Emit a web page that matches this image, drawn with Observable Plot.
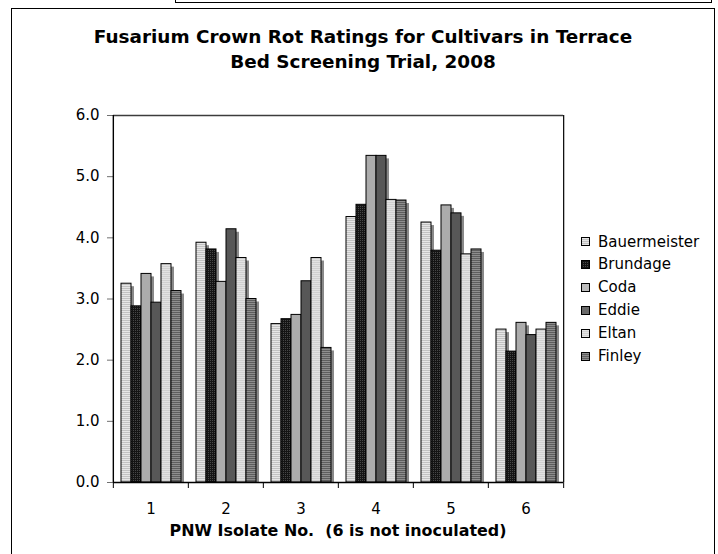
<!DOCTYPE html>
<html>
<head>
<meta charset="utf-8">
<script src="https://cdn.jsdelivr.net/npm/d3@7"></script>
<script src="https://cdn.jsdelivr.net/npm/@observablehq/plot@0.6"></script>
<style>
  html, body { margin: 0; padding: 0; background: #fff; }
  #wrap { position: relative; width: 718px; height: 554px; overflow: hidden; font-family: "DejaVu Sans", Verdana, sans-serif; color: #000; }
  #topbox { position: absolute; left: 175px; top: -20px; width: 535px; height: 21px; border: 1.3px solid #000; }
  #border { position: absolute; left: 11px; top: 8px; width: 702px; height: 600px; border: 1.3px solid #000; }
  #title { position: absolute; left: 11px; width: 704px; top: 24px; text-align: center; font-weight: bold; font-size: 18.4px; line-height: 25px; }
  #chart { position: absolute; left: 0; top: 0; }
  #xlabel { position: absolute; left: 112px; width: 452px; top: 521px; text-align: center; font-weight: bold; font-size: 15.9px; line-height: 20px; white-space: pre; }
  #legend { position: absolute; left: 581px; top: 230.5px; font-size: 15px; }
  .li { height: 22.9px; line-height: 22.9px; display: flex; align-items: center; white-space: nowrap; }
  .li svg { margin-right: 8px; flex: none; }
</style>
</head>
<body>
<svg width="0" height="0" style="position:absolute">
  <defs>
    <pattern id="pBau" width="4" height="2" patternUnits="userSpaceOnUse">
      <rect width="4" height="2" fill="#e6e6e6"/><rect width="4" height="1" fill="#c2c2c2"/>
    </pattern>
    <pattern id="pBru" width="2" height="2" patternUnits="userSpaceOnUse">
      <rect width="2" height="2" fill="#141414"/><rect width="1" height="1" fill="#474747"/>
    </pattern>
    <pattern id="pElt" width="4" height="2" patternUnits="userSpaceOnUse">
      <rect width="4" height="2" fill="#e2e2e2"/><rect width="4" height="1" fill="#d0d0d0"/>
    </pattern>
    <pattern id="pFin" width="4" height="2" patternUnits="userSpaceOnUse">
      <rect width="4" height="2" fill="#8e8e8e"/><rect width="4" height="1" fill="#5e5e5e"/>
    </pattern>
  </defs>
</svg>
<div id="wrap">
  <div id="topbox"></div>
  <div id="border"></div>
  <div id="title">Fusarium Crown Rot Ratings for Cultivars in Terrace<br>Bed Screening Trial, 2008</div>
  <div id="chart"></div>
  <div id="legend"></div>
  <div id="xlabel">PNW Isolate No.  (6 is not inoculated)</div>
</div>
<script>
// ---- data ----
const isolates = ["1", "2", "3", "4", "5", "6"];
const cultivars = ["Bauermeister", "Brundage", "Coda", "Eddie", "Eltan", "Finley"];
const bauermeister = [3.25, 3.92, 2.59, 4.34, 4.25, 2.50];
const brundage     = [2.88, 3.81, 2.67, 4.54, 3.79, 2.14];
const coda         = [3.41, 3.28, 2.74, 5.34, 4.53, 2.61];
const eddie        = [2.94, 4.14, 3.29, 5.34, 4.40, 2.41];
const eltan        = [3.57, 3.67, 3.67, 4.62, 3.73, 2.50];
const finley       = [3.13, 3.00, 2.20, 4.61, 3.81, 2.61];
const yTicks = [0, 1, 2, 3, 4, 5, 6];

// ---- styles ----
const fills = ["url(#pBau)", "url(#pBru)", "#acacac", "#575757", "url(#pElt)", "url(#pFin)"];
const legendFills = ["url(#pBau)", "url(#pBru)", "#bcbcbc", "#6a6a6a", "url(#pElt)", "url(#pFin)"];

const series = [bauermeister, brundage, coda, eddie, eltan, finley];
const rows = [];
isolates.forEach((iso, i) => {
  cultivars.forEach((c, j) => rows.push({isolate: iso, cultivar: c, value: series[j][i]}));
});

const W = 718, H = 554, ML = 112, MR = 154, MT = 115, MB = 72;
const step = (W - ML - MR) / isolates.length;
const innerH = H - MT - MB;

const chart = Plot.plot({
  width: W, height: H,
  marginLeft: ML, marginRight: MR, marginTop: MT, marginBottom: MB,
  style: {fontFamily: "'DejaVu Sans', Verdana, sans-serif", fontSize: "15px", color: "#000", background: "transparent", overflow: "visible"},
  fx: {domain: isolates, padding: 0, label: null},
  x: {domain: cultivars, paddingInner: 0, paddingOuter: 0.75, axis: null},
  y: {domain: [0, 6]},
  color: {domain: cultivars, range: fills},
  marks: [
    Plot.barY(rows, {fx: "isolate", x: "cultivar", y: "value", fill: "#8a8a8a", dx: 3, dy: 3, insetBottom: 3}),
    Plot.barY(rows, {fx: "isolate", x: "cultivar", y: "value", fill: "cultivar", stroke: "#000", strokeWidth: 1}),
    Plot.ruleY([6], {stroke: "#3c3c3c", strokeWidth: 1.6}),
    Plot.axisY({ticks: yTicks, tickFormat: d3.format(".1f"), tickSize: 6, tickPadding: 8, label: null, stroke: "#707070", fill: "#000"}),
    // left and right frame lines (drawn as full-height ticks at the outer facet edges)
    Plot.axisFx({anchor: "bottom", ticks: ["1"], tickSize: -innerH, tickFormat: () => "", label: null, dx: -step / 2, stroke: "#000", strokeWidth: 1.4}),
    Plot.axisFx({anchor: "bottom", ticks: ["6"], tickSize: -innerH, tickFormat: () => "", label: null, dx: step / 2, stroke: "#000", strokeWidth: 1.2}),
    Plot.ruleY([0], {stroke: "#000", strokeWidth: 1.6}),
    Plot.axisFx({anchor: "bottom", tickSize: 6, tickFormat: () => "", label: null, dx: -step / 2, stroke: "#000"}),
    Plot.axisFx({anchor: "bottom", ticks: ["6"], tickSize: 6, tickFormat: () => "", label: null, dx: step / 2, stroke: "#000"}),
    Plot.axisFx({anchor: "bottom", tickSize: 0, tickPadding: 21, label: null, fill: "#000"})
  ]
});
document.getElementById("chart").appendChild(chart);

// legend
const legend = document.getElementById("legend");
cultivars.forEach((c, j) => {
  const item = document.createElement("div");
  item.className = "li";
  item.innerHTML = `<svg width="9" height="9"><rect x="0.5" y="0.5" width="8" height="8" fill="${legendFills[j]}" stroke="#000" stroke-width="1"/></svg><span>${c}</span>`;
  legend.appendChild(item);
});
</script>
</body>
</html>
